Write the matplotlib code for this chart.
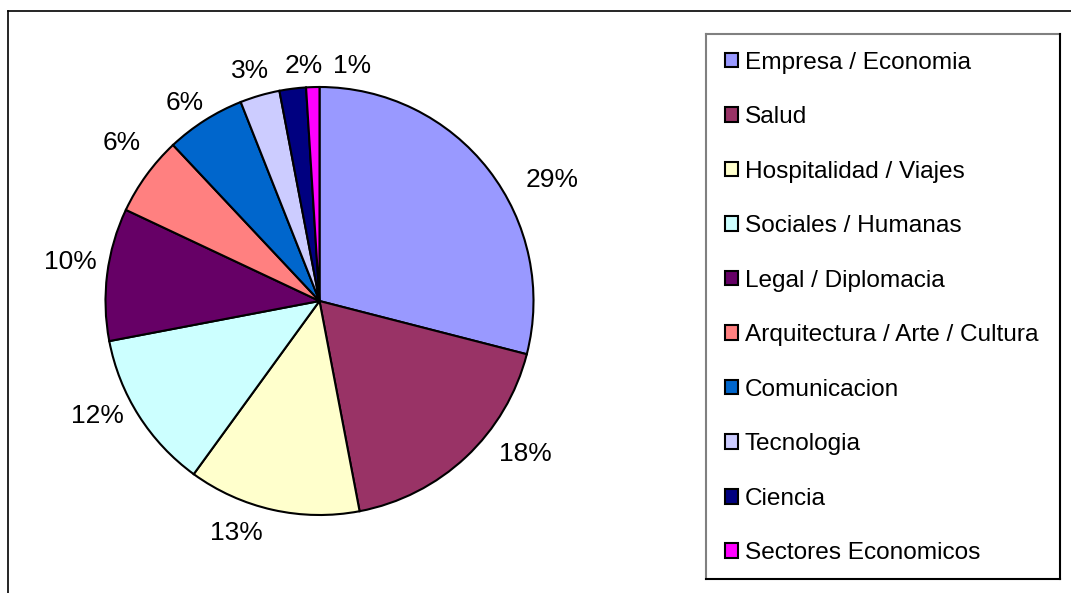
import matplotlib
matplotlib.use("Agg")
import matplotlib.pyplot as plt
from matplotlib.lines import Line2D

plt.rcParams['font.family'] = ['Liberation Sans', 'DejaVu Sans']

categories = ["Empresa / Economia", "Salud", "Hospitalidad / Viajes",
              "Sociales / Humanas", "Legal / Diplomacia",
              "Arquitectura / Arte / Cultura", "Comunicacion", "Tecnologia",
              "Ciencia", "Sectores Economicos"]
values = [29, 18, 13, 12, 10, 6, 6, 3, 2, 1]
colors = ["#9999FF", "#993366", "#FFFFCC", "#CCFFFF", "#660066",
          "#FF8080", "#0066CC", "#CCCCFF", "#000080", "#FF00FF"]

# label positions (text layout, in pie-radius units relative to centre)
label_pos = [(1.086, 0.565), (0.960, -0.715), (-0.390, -1.084),
             (-1.040, -0.537), (-1.166, 0.182), (-0.923, 0.738),
             (-0.629, 0.925), (-0.325, 1.075), (-0.072, 1.098),
             (0.152, 1.098)]

W, H = 1071, 593
fig = plt.figure(figsize=(W / 100, H / 100), dpi=100)

cx, cy, R = 319.5, 301, 214
ax = fig.add_axes([(cx - R) / W, (H - cy - R) / H, 2 * R / W, 2 * R / H])
wedges, _ = ax.pie(values, colors=colors, startangle=90, counterclock=False,
                   radius=1, wedgeprops=dict(edgecolor="black", linewidth=1.5))
ax.set_xlim(-1, 1)
ax.set_ylim(-1, 1)
ax.set_aspect("equal")
ax.axis("off")

total = sum(values)
for v, (lx, ly) in zip(values, label_pos):
    ax.text(lx, ly, f"{round(100 * v / total)}%", ha="center", va="center",
            fontsize=19, color="black", clip_on=False)

# legend
leg = fig.legend(wedges, categories, loc="center left",
                 bbox_to_anchor=(725 / W, 1 - 308 / H), frameon=False,
                 fontsize=17.6, handlelength=0.55, handleheight=0.55,
                 handletextpad=0.25, labelspacing=1.33, borderpad=0,
                 borderaxespad=0)

# legend frame: gray top/left, black right/bottom
lx0, lx1, ly0, ly1 = 706 / W, 1060 / W, 1 - 34 / H, 1 - 579 / H
fig.add_artist(Line2D([lx0, lx1], [ly0, ly0], color="#808080", lw=1.5))
fig.add_artist(Line2D([lx0, lx0], [ly0, ly1], color="#808080", lw=1.5))
fig.add_artist(Line2D([lx1, lx1], [ly0, ly1], color="black", lw=1.5))
fig.add_artist(Line2D([lx0, lx1], [ly1, ly1], color="black", lw=1.5))

# outer chart frame (top and left visible)
fig.add_artist(Line2D([8 / W, 1], [1 - 11 / H, 1 - 11 / H], color="black", lw=1.2))
fig.add_artist(Line2D([8 / W, 8 / W], [1 - 11 / H, 0], color="black", lw=1.2))

fig.savefig("out.png", dpi=100)
